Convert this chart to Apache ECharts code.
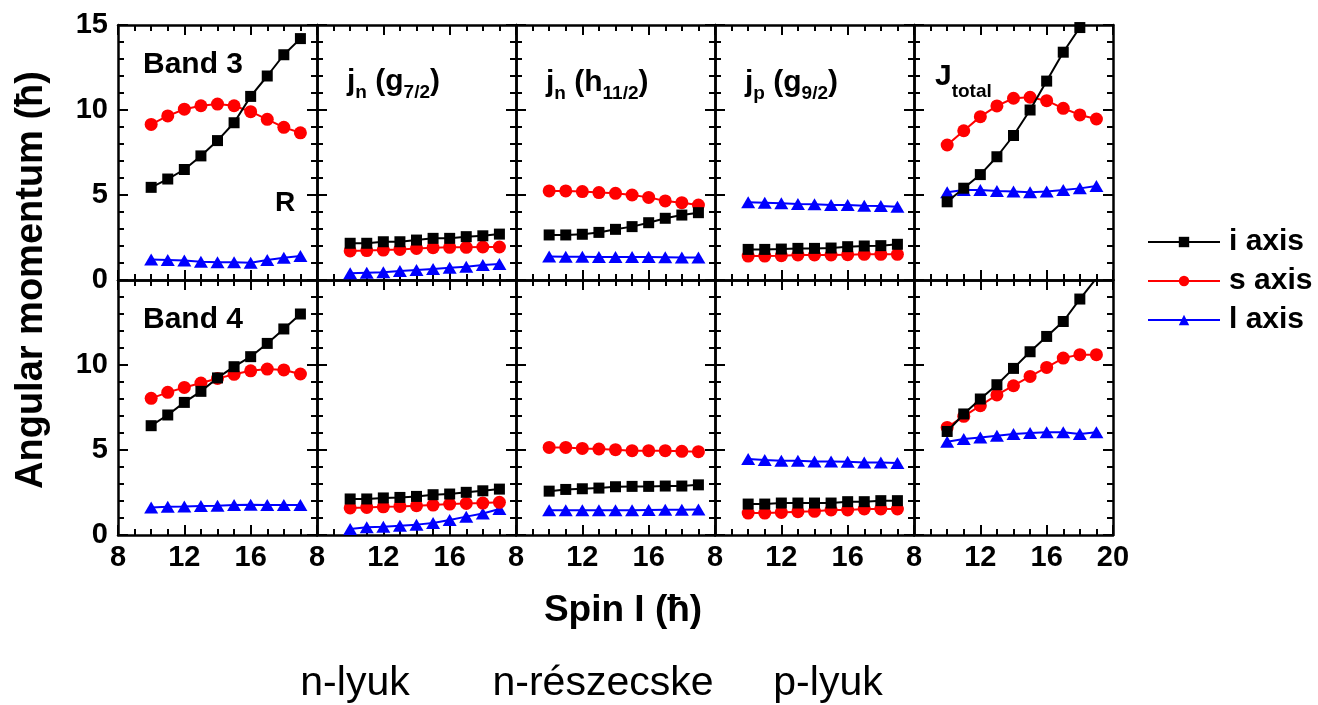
<!DOCTYPE html>
<html>
<head>
<meta charset="utf-8">
<title>Angular momentum components</title>
<script src="https://cdn.jsdelivr.net/npm/echarts@6/dist/echarts.min.js"></script>
<style>
  html, body { margin: 0; padding: 0; background: #ffffff; }
  #chart { width: 1318px; height: 705px; }
</style>
</head>
<body>
<div id="chart"></div>
<script>
// Spin values (x) shared by every panel
const spin = [10, 11, 12, 13, 14, 15, 16, 17, 18, 19];

// Axis tick values
const xTicks = [8, 12, 16, 20];
const yTicks = [0, 5, 10, 15];

// Series names
const seriesNames = ['i axis', 's axis', 'l axis'];

// Band 3 (top row)
const band3_i = [5.45, 5.94, 6.5, 7.3, 8.2, 9.25, 10.8, 12.0, 13.25, 14.2];
const band3_s = [9.15, 9.65, 10.05, 10.25, 10.35, 10.25, 9.9, 9.45, 8.98, 8.66];
const band3_l = [1.2, 1.18, 1.14, 1.08, 1.04, 1.04, 1.02, 1.18, 1.31, 1.41];

const g72_3_i = [2.16, 2.16, 2.25, 2.25, 2.35, 2.45, 2.45, 2.55, 2.6, 2.7];
const g72_3_s = [1.71, 1.73, 1.76, 1.8, 1.86, 1.9, 1.92, 1.92, 1.94, 1.94];
const g72_3_l = [0.39, 0.43, 0.45, 0.53, 0.59, 0.65, 0.72, 0.78, 0.88, 0.94];

const h112_3_i = [2.65, 2.65, 2.69, 2.8, 2.98, 3.14, 3.37, 3.63, 3.82, 3.96];
const h112_3_s = [5.24, 5.24, 5.2, 5.14, 5.1, 5.0, 4.86, 4.65, 4.55, 4.41];
const h112_3_l = [1.38, 1.37, 1.37, 1.36, 1.36, 1.35, 1.35, 1.34, 1.33, 1.32];

const g92_3_i = [1.8, 1.8, 1.82, 1.86, 1.86, 1.88, 1.96, 2.0, 2.02, 2.1];
const g92_3_s = [1.41, 1.41, 1.43, 1.47, 1.47, 1.47, 1.49, 1.51, 1.51, 1.51];
const g92_3_l = [4.57, 4.55, 4.51, 4.47, 4.45, 4.41, 4.41, 4.37, 4.35, 4.31];

const tot_3_i = [4.6, 5.4, 6.2, 7.25, 8.5, 10.0, 11.7, 13.4, 14.85, 16.3];
const tot_3_s = [7.94, 8.78, 9.61, 10.24, 10.69, 10.75, 10.55, 10.1, 9.71, 9.47];
const tot_3_l = [5.16, 5.29, 5.29, 5.24, 5.2, 5.16, 5.2, 5.29, 5.39, 5.53];

// Band 4 (bottom row)
const band4_i = [6.43, 7.06, 7.8, 8.45, 9.24, 9.9, 10.49, 11.27, 12.12, 13.0];
const band4_s = [8.04, 8.39, 8.68, 8.94, 9.21, 9.45, 9.66, 9.76, 9.71, 9.47];
const band4_l = [1.62, 1.66, 1.68, 1.71, 1.72, 1.76, 1.78, 1.76, 1.76, 1.76];

const g72_4_i = [2.12, 2.12, 2.18, 2.21, 2.27, 2.37, 2.41, 2.51, 2.6, 2.7];
const g72_4_s = [1.59, 1.62, 1.66, 1.68, 1.72, 1.76, 1.82, 1.86, 1.88, 1.92];
const g72_4_l = [0.35, 0.45, 0.49, 0.55, 0.61, 0.71, 0.88, 1.08, 1.27, 1.53];

const h112_4_i = [2.58, 2.68, 2.72, 2.76, 2.84, 2.86, 2.86, 2.88, 2.88, 2.95];
const h112_4_s = [5.15, 5.15, 5.09, 5.06, 5.02, 4.96, 4.96, 4.96, 4.92, 4.9];
const h112_4_l = [1.46, 1.46, 1.45, 1.45, 1.46, 1.46, 1.47, 1.48, 1.48, 1.5];

const g92_4_i = [1.82, 1.82, 1.88, 1.88, 1.88, 1.88, 1.96, 1.96, 2.02, 2.02];
const g92_4_s = [1.29, 1.29, 1.33, 1.37, 1.39, 1.47, 1.47, 1.53, 1.53, 1.53];
const g92_4_l = [4.47, 4.41, 4.37, 4.37, 4.33, 4.33, 4.31, 4.27, 4.27, 4.24];

const tot_4_i = [6.09, 7.12, 8.0, 8.84, 9.8, 10.78, 11.68, 12.56, 13.88, 15.1];
const tot_4_s = [6.33, 6.98, 7.61, 8.24, 8.78, 9.33, 9.86, 10.41, 10.61, 10.61];
const tot_4_l = [5.49, 5.65, 5.74, 5.84, 5.94, 6.0, 6.04, 6.04, 5.94, 6.04];

// Panels in reading order: top row then bottom row
const panels = [
  [band3_i, band3_s, band3_l],
  [g72_3_i, g72_3_s, g72_3_l],
  [h112_3_i, h112_3_s, h112_3_l],
  [g92_3_i, g92_3_s, g92_3_l],
  [tot_3_i, tot_3_s, tot_3_l],
  [band4_i, band4_s, band4_l],
  [g72_4_i, g72_4_s, g72_4_l],
  [h112_4_i, h112_4_s, h112_4_l],
  [g92_4_i, g92_4_s, g92_4_l],
  [tot_4_i, tot_4_s, tot_4_l]
];

// ---- styling / layout ----
const FONT = '"Liberation Sans", Arial, Helvetica, sans-serif';
const COLS = 5, ROWS = 2;
const GRID_LEFT = 118, GRID_TOP = 25, CELL_W = 199, CELL_H = 255;
const X_MIN = xTicks[0], X_MAX = xTicks[xTicks.length - 1], X_STEP = xTicks[1] - xTicks[0];
const Y_MIN = yTicks[0], Y_MAX = yTicks[yTicks.length - 1], Y_STEP = yTicks[1] - yTicks[0];

const marks = [
  { color: '#000000', symbol: 'rect', size: 11, z: 5 },
  { color: '#ff0000', symbol: 'circle', size: 13, z: 4 },
  { color: '#0000ff', symbol: 'triangle', size: [14, 12], z: 3 }
];

const labelStyle = { color: '#000', fontSize: 29, fontWeight: 'bold', fontFamily: FONT };

function frameAxis(extra) {
  return Object.assign({
    type: 'value',
    axisLine: { show: true, onZero: false, lineStyle: { color: '#000', width: 2.5 } },
    axisTick: { show: true, inside: true, length: 10, lineStyle: { color: '#000', width: 2 } },
    minorTick: { show: true, length: 6, lineStyle: { color: '#000', width: 2 } },
    splitLine: { show: false },
    minorSplitLine: { show: false },
    axisPointer: { show: false }
  }, extra);
}

const grids = [], xAxes = [], yAxes = [], series = [];

panels.forEach((sets, k) => {
  const r = Math.floor(k / COLS), c = k % COLS;
  grids.push({
    left: GRID_LEFT + c * CELL_W, top: GRID_TOP + r * CELL_H,
    width: CELL_W, height: CELL_H,
    containLabel: false, outerBoundsMode: 'none'
  });
  const xCommon = { gridIndex: k, min: X_MIN, max: X_MAX, interval: X_STEP };
  xAxes.push(frameAxis(Object.assign({}, xCommon, {
    position: 'bottom',
    minorTick: { show: true, splitNumber: 4, length: 6, lineStyle: { color: '#000', width: 2 } },
    axisLabel: Object.assign({
      show: r === ROWS - 1, margin: 8, showMinLabel: true,
      showMaxLabel: c === COLS - 1, hideOverlap: false
    }, labelStyle)
  })));
  xAxes.push(frameAxis(Object.assign({}, xCommon, {
    position: 'top',
    minorTick: { show: true, splitNumber: 4, length: 6, lineStyle: { color: '#000', width: 2 } },
    axisLabel: { show: false }
  })));
  const yCommon = { gridIndex: k, min: Y_MIN, max: Y_MAX, interval: Y_STEP };
  yAxes.push(frameAxis(Object.assign({}, yCommon, {
    position: 'left',
    minorTick: { show: true, splitNumber: 5, length: 6, lineStyle: { color: '#000', width: 2 } },
    axisLabel: Object.assign({
      show: c === 0, margin: 10, showMinLabel: true,
      showMaxLabel: r === 0, hideOverlap: false
    }, labelStyle)
  })));
  yAxes.push(frameAxis(Object.assign({}, yCommon, {
    position: 'right',
    minorTick: { show: true, splitNumber: 5, length: 6, lineStyle: { color: '#000', width: 2 } },
    axisLabel: { show: false }
  })));

  sets.forEach((vals, j) => {
    const m = marks[j];
    series.push({
      type: 'line',
      name: seriesNames[j],
      xAxisIndex: 2 * k,
      yAxisIndex: 2 * k,
      data: spin.map((s, i) => [s, vals[i]]),
      symbol: m.symbol,
      symbolSize: m.size,
      showSymbol: true,
      showAllSymbol: true,
      clip: true,
      z: m.z,
      itemStyle: { color: m.color, borderWidth: 0 },
      lineStyle: { color: m.color, width: 2 },
      emphasis: { disabled: true },
      animation: false
    });
  });
});

// ---- text annotations ----
const graphics = [];
const MIDDLE_OFFSET = 0.3465; // baseline distance below the "middle" anchor, in em

function fontOf(size, weight) {
  return `${weight} ${size}px ${FONT}`;
}
const measureCtx = document.createElement('canvas').getContext('2d');
function widthOf(str, size, weight) {
  measureCtx.font = fontOf(size, weight);
  return measureCtx.measureText(str).width;
}
function addText(x, baseline, str, size, weight, align, rotation) {
  const el = {
    type: 'text',
    silent: true,
    x: x,
    y: rotation ? baseline : baseline - MIDDLE_OFFSET * size,
    style: {
      text: str,
      font: fontOf(size, weight),
      fill: '#000',
      align: align || 'left', textAlign: align || 'left',
      verticalAlign: 'middle', textVerticalAlign: 'middle'
    }
  };
  if (rotation) el.rotation = rotation;
  graphics.push(el);
}
// Text built from pieces of mixed size; sub-pieces sit below the baseline
function addSequence(x0, baseline, parts) {
  let x = x0;
  parts.forEach(([str, size, dy]) => {
    addText(x, baseline + dy, str, size, 'bold');
    x += widthOf(str, size, 'bold');
  });
}

const M = 30, S = 19, SUB = 7;
addText(143, 75, 'Band 3', 30, 'bold');
addText(275, 213, 'R', 28, 'bold');
addText(143, 330, 'Band 4', 30, 'bold');
addSequence(347, 92, [['j', M, 0], ['n', S, SUB], [' (g', M, 0], ['7/2', S, SUB], [')', M, 0]]);
addSequence(546, 93, [['j', M, 0], ['n', S, SUB], [' (h', M, 0], ['11/2', S, SUB], [')', M, 0]]);
addSequence(745, 93, [['j', M, 0], ['p', S, SUB], [' (g', M, 0], ['9/2', S, SUB], [')', M, 0]]);
addSequence(935, 87, [['J', M, 0], ['total', S, 11]]);

// Axis titles
addText(32, 280, 'Angular momentum (\u0127)', 38, 'bold', 'center', Math.PI / 2);
addText(623, 624, 'Spin I (\u0127)', 37, 'bold', 'center');

// Category captions under the panels
addText(355, 698, 'n-lyuk', 41, 'normal', 'center');
addText(603, 698, 'n-részecske', 41, 'normal', 'center');
addText(828, 698, 'p-lyuk', 41, 'normal', 'center');

const option = {
  animation: false,
  backgroundColor: '#ffffff',
  grid: grids,
  xAxis: xAxes,
  yAxis: yAxes,
  legend: {
    data: seriesNames,
    orient: 'vertical',
    left: 1142,
    top: 222,
    itemWidth: 72,
    itemHeight: 13,
    itemGap: 9,
    selectedMode: true,
    textStyle: { color: '#000', fontSize: 30, fontWeight: 'bold', fontFamily: FONT, padding: [0, 0, 0, 4] }
  },
  series: series,
  graphic: graphics
};

const chart = echarts.init(document.getElementById('chart'), null, { renderer: 'canvas' });
chart.setOption(option);
</script>
</body>
</html>
